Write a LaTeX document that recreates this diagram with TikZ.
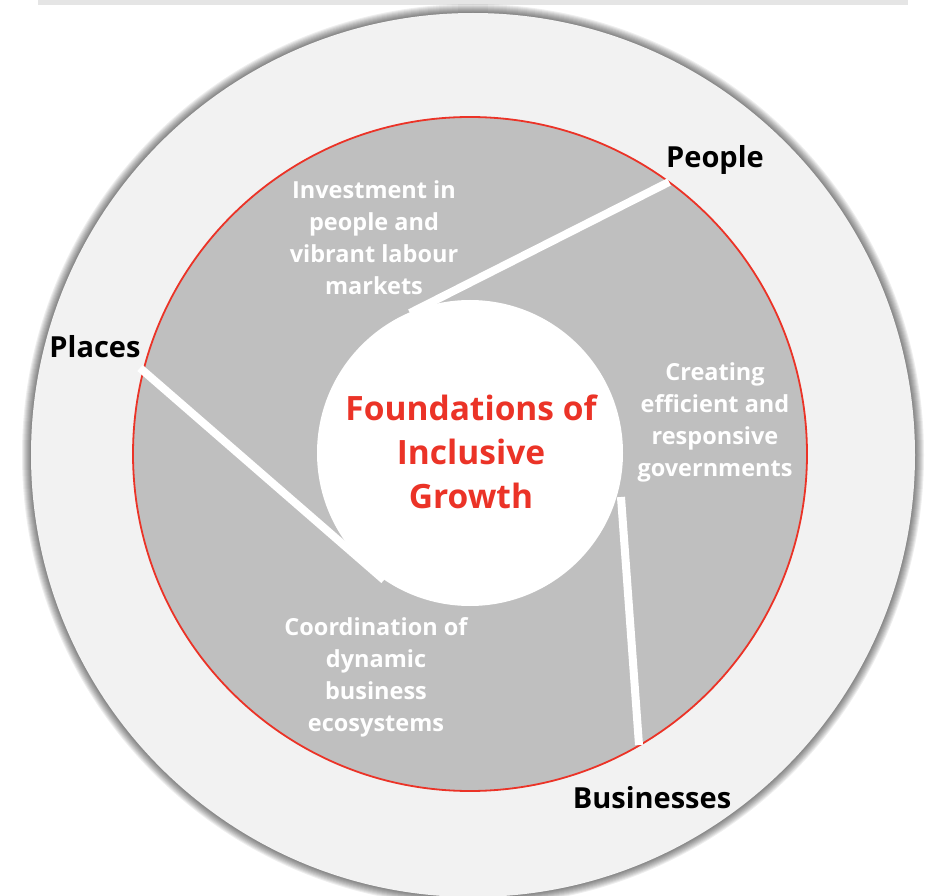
\documentclass[tikz,border=0pt]{standalone}
\usepackage{fontspec}
\setmainfont{Open Sans}
\definecolor{bargray}{HTML}{E5E5E5}
\definecolor{ringgray}{HTML}{F2F2F2}
\definecolor{midgray}{HTML}{BFBFBF}
\definecolor{accentred}{HTML}{EB3327}
\tikzset{
  whitetext/.style={text=white, align=center, font=\bfseries\fontsize{23.5}{32}\selectfont, inner sep=0pt},
  labeltext/.style={text=black, font=\bfseries\fontsize{29}{36}\selectfont, inner sep=0pt},
  centertext/.style={text=accentred, align=center, font=\bfseries\fontsize{33.5}{44}\selectfont, inner sep=0pt},
  spoke/.style={white, line width=8pt}
}
\begin{document}
\begin{tikzpicture}[x=1pt,y=-1pt]
\useasboundingbox (0,0) rectangle (927,896);
\begin{scope}
\clip (0,0) rectangle (927,896);
\fill[bargray] (38,0) rectangle (908,5);
% glow of outer ring
\foreach \w in {2,4,...,18} {
  \draw[black, opacity=0.065, line width=\w pt] (473,455) circle[radius=442pt];
}
\fill[ringgray] (473,455) circle[radius=442pt];
% inner band
\filldraw[fill=midgray, draw=accentred, line width=1.8pt] (470,454) circle[radius=337pt];
% spoke end points
\coordinate (peopleOut) at (669,182);
\coordinate (peopleIn) at (410,313);
\coordinate (placesOut) at (140,368);
\coordinate (placesIn) at (384,580);
\coordinate (busOut) at (639,745);
\coordinate (busIn) at (621,497);
\draw[spoke] (peopleIn) -- (peopleOut);
\draw[spoke] (placesIn) -- (placesOut);
\draw[spoke] (busIn) -- (busOut);
% centre
\fill[white] (470,453) circle[radius=153pt];
\node[centertext] (core) at (471,452) {Foundations of\\Inclusive\\Growth};
\node[whitetext] (invest) at (374,238) {Investment in\\people and\\vibrant labour\\markets};
\node[whitetext] (govern) at (715,422) {Creating\\efficient and\\responsive\\governments};
\node[whitetext] (coord) at (376,677) {Coordination of\\dynamic\\business\\ecosystems};
\node[labeltext] (people) at (715,160) {People};
\node[labeltext] (places) at (95,347) {Places};
\node[labeltext] (business) at (652,798) {Businesses};
\end{scope}
\end{tikzpicture}
\end{document}
